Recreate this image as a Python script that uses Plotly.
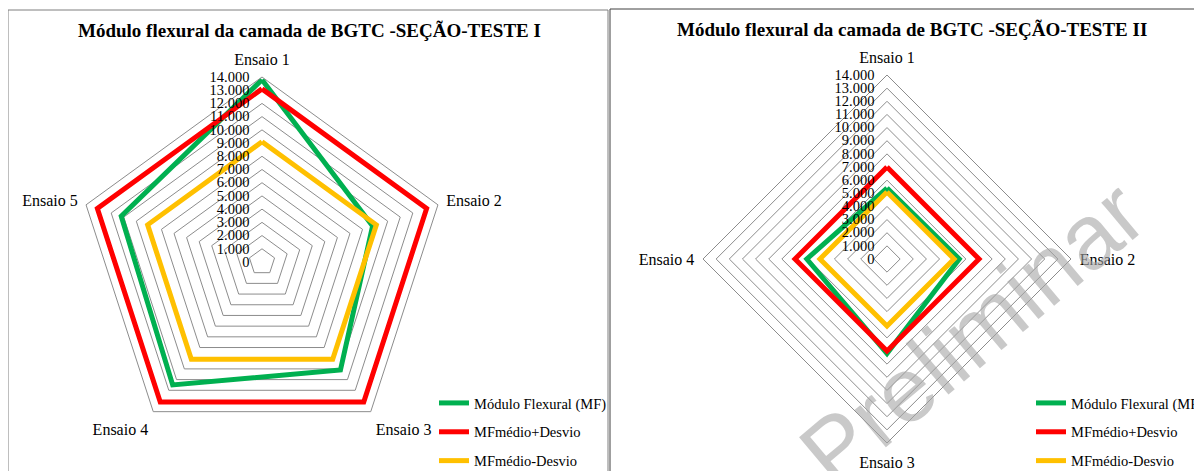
import plotly.graph_objects as go

# ---------------- data ----------------
cats_I = ["Ensaio 1", "Ensaio 2", "Ensaio 3", "Ensaio 4", "Ensaio 5"]
mf_I = [13800, 8800, 10100, 11500, 11200]
mais_I = [13100, 13100, 13100, 13100, 13100]
menos_I = [9100, 9100, 9100, 9100, 9100]

cats_II = ["Ensaio 1", "Ensaio 2", "Ensaio 3", "Ensaio 4"]
mf_II = [5400, 5500, 7200, 6100]
mais_II = [7000, 7000, 7000, 7000]
menos_II = [5100, 5100, 5100, 5100]

series_names = ["Módulo Flexural (MF)", "MFmédio+Desvio", "MFmédio-Desvio"]
series_colors = ["#00B050", "#FF0000", "#FFC000"]

tick_vals = list(range(0, 14001, 1000))
tick_text = [f"{v:,}".replace(",", ".") for v in tick_vals]

titles = ["Módulo flexural da camada de BGTC -SEÇÃO-TESTE I",
          "Módulo flexural da camada de BGTC -SEÇÃO-TESTE II"]

SERIF = "Liberation Serif"
OFF = 8                      # page body margin
# canvas larger than the window so the legends never push the margins
W, H = 1260, 500


def PX(x):
    return (x - OFF) / W


def PY(y):
    return (H - (y - OFF)) / H


fig = go.Figure()


def close(lst):
    return list(lst) + [lst[0]]


for vals, name, col in zip([mf_I, mais_I, menos_I], series_names, series_colors):
    fig.add_trace(go.Scatterpolar(
        r=close(vals), theta=close(cats_I), mode="lines", name=name,
        line=dict(color=col, width=5), subplot="polar", legend="legend",
        legendgroup="I" + name))

for vals, name, col in zip([mf_II, mais_II, menos_II], series_names, series_colors):
    fig.add_trace(go.Scatterpolar(
        r=close(vals), theta=close(cats_II), mode="lines", name=name,
        line=dict(color=col, width=5), subplot="polar2", legend="legend2",
        legendgroup="II" + name))


def px_dom(cx, cy, r):
    return dict(x=[PX(cx - r), PX(cx + r)], y=[PY(cy + r), PY(cy - r)])


grid = "#8C8C8C"


def polar_cfg(dom, cats):
    return dict(
        domain=dom,
        bgcolor="white",
        gridshape="linear",
        radialaxis=dict(range=[0, 14000], tickvals=tick_vals, ticktext=tick_text,
                        angle=90, side="counterclockwise", showline=False,
                        gridcolor=grid, gridwidth=1, ticks="outside", ticklen=7,
                        tickcolor="rgba(0,0,0,0)", tickangle=90,
                        tickfont=dict(family=SERIF, size=14.5, color="#000")),
        angularaxis=dict(categoryarray=cats, type="category", rotation=90,
                         direction="clockwise", showgrid=False, showline=True,
                         linecolor=grid, linewidth=1, ticks="outside", ticklen=5,
                         tickcolor="rgba(0,0,0,0)",
                         tickfont=dict(family=SERIF, size=16, color="#000")),
    )


fig.update_layout(
    width=W, height=H,
    margin=dict(l=0, r=0, t=0, b=0),
    paper_bgcolor="white",
    separators=",.",
    polar=polar_cfg(px_dom(262, 262, 185), cats_I),
    polar2=polar_cfg(px_dom(887, 259, 184), cats_II),
    legend=dict(x=PX(434), y=PY(387), xanchor="left", yanchor="top",
                traceorder="grouped", tracegroupgap=7, bgcolor="rgba(0,0,0,0)",
                font=dict(family=SERIF, size=14.5, color="#000")),
    legend2=dict(x=PX(1031), y=PY(387), xanchor="left", yanchor="top",
                 traceorder="grouped", tracegroupgap=7, bgcolor="rgba(0,0,0,0)",
                 font=dict(family=SERIF, size=14.5, color="#000")),
    showlegend=True,
)

# titles
fig.add_annotation(text="<b>" + titles[0] + "</b>", x=PX(309), y=PY(30),
                   xref="paper", yref="paper", showarrow=False,
                   xanchor="center", yanchor="middle",
                   font=dict(family=SERIF, size=19, color="#000"))
fig.add_annotation(text="<b>" + titles[1] + "</b>", x=PX(912), y=PY(29),
                   xref="paper", yref="paper", showarrow=False,
                   xanchor="center", yanchor="middle",
                   font=dict(family=SERIF, size=19, color="#000"))

# watermark
fig.add_annotation(text="Preliminar", x=PX(972), y=PY(333),
                   xref="paper", yref="paper", showarrow=False, textangle=-40,
                   xanchor="center", yanchor="middle",
                   font=dict(family="Liberation Sans", size=92,
                             color="rgba(165,165,165,0.6)"))

# panel frames
fig.add_shape(type="rect", xref="paper", yref="paper",
              x0=PX(8), x1=PX(608), y0=-0.05, y1=PY(10),
              line=dict(color="#7F7F7F", width=1))
fig.add_shape(type="line", xref="paper", yref="paper",
              x0=PX(610), x1=1.01, y0=PY(9), y1=PY(9),
              line=dict(color="#404040", width=1))
fig.add_shape(type="line", xref="paper", yref="paper",
              x0=PX(610), x1=PX(610), y0=-0.05, y1=PY(9),
              line=dict(color="#404040", width=1))

fig.write_html("out.html")
